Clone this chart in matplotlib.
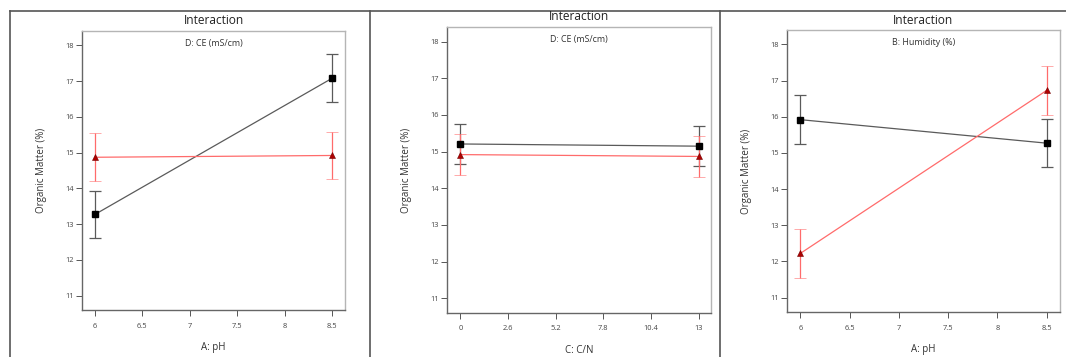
import matplotlib
matplotlib.use("Agg")
import matplotlib.pyplot as plt
from matplotlib.lines import Line2D

plt.rcParams['font.family'] = ['Open Sans', 'DejaVu Sans']

# --- data ---
# panel 1: A: pH  vs D: CE (mS/cm)
p1_x = [6, 8.5]
p1_black = [13.27, 17.08]
p1_black_err = [0.67, 0.67]
p1_red = [14.87, 14.92]
p1_red_err = [0.67, 0.67]
p1_ticks = [6, 6.5, 7, 7.5, 8, 8.5]
p1_ticklabels = ['6', '6.5', '7', '7.5', '8', '8.5']

# panel 2: C: C/N vs D: CE (mS/cm)
p2_x = [0, 13]
p2_black = [15.21, 15.15]
p2_black_err = [0.55, 0.55]
p2_red = [14.92, 14.87]
p2_red_err = [0.55, 0.55]
p2_ticks = [0, 2.6, 5.2, 7.8, 10.4, 13]
p2_ticklabels = ['0', '2.6', '5.2', '7.8', '10.4', '13']

# panel 3: A: pH vs B: Humidity (%)
p3_x = [6, 8.5]
p3_black = [15.92, 15.27]
p3_black_err = [0.67, 0.67]
p3_red = [12.22, 16.73]
p3_red_err = [0.67, 0.67]
p3_ticks = p1_ticks
p3_ticklabels = p1_ticklabels

y_ticks = [11, 12, 13, 14, 15, 16, 17, 18]

W, H = 1066, 357
fig = plt.figure(figsize=(W / 100, H / 100), dpi=100)
fig.patch.set_facecolor('white')


def px_axes(left, top, right, bottom):
    return fig.add_axes([left / W, 1 - bottom / H, (right - left) / W, (bottom - top) / H])


def draw_panel(ax, x, blk, blk_err, red, red_err, ticks, ticklabels, xlim,
               factor, xlabel, title, title_y, label_x, ylabel_x):
    ax.errorbar(x, blk, yerr=blk_err, color='#5a5a5a', lw=0.9, capsize=4.3,
                capthick=0.9, marker='s', ms=4, mfc='black', mec='black', zorder=3)
    ax.errorbar(x, red, yerr=red_err, color='#ff6b6b', lw=0.9, capsize=4.3,
                capthick=0.9, marker='^', ms=4.2, mfc='#b00000', mec='#700000',
                mew=0.4, zorder=3)
    ax.set_xlim(*xlim)
    ax.set_ylim(10.6, 18.4)
    ax.set_xticks(ticks)
    ax.set_xticklabels(ticklabels)
    ax.set_yticks(y_ticks)
    ax.tick_params(direction='out', length=4, width=0.7, color='#555555',
                   labelsize=5.4, labelcolor='#444444', pad=2)
    ax.tick_params(axis='x', pad=5)
    for s in ['left', 'bottom']:
        ax.spines[s].set_color('#666666')
        ax.spines[s].set_linewidth(1.0)
    for s in ['top', 'right']:
        ax.spines[s].set_color('#b5b5b5')
        ax.spines[s].set_linewidth(1.0)
    ax.text(0.5, 0.955, factor, transform=ax.transAxes, ha='center', va='center',
            fontsize=6.4, color='#333333')
    ax.set_xlabel(xlabel, fontsize=7, color='#333333', labelpad=9)
    ax.set_ylabel(ylabel_x, fontsize=7, color='#333333', labelpad=13)
    fig.text(label_x / W, 1 - title_y / H, title, ha='center', va='center',
             fontsize=8.6, color='#222222')


ax1 = px_axes(82, 31, 345, 310)
draw_panel(ax1, p1_x, p1_black, p1_black_err, p1_red, p1_red_err, p1_ticks,
           p1_ticklabels, (5.865, 8.635), 'D: CE (mS/cm)', 'A: pH',
           'Interaction', 21, 213.5, 'Organic Matter (%)')

ax2 = px_axes(447, 27, 711, 313)
draw_panel(ax2, p2_x, p2_black, p2_black_err, p2_red, p2_red_err, p2_ticks,
           p2_ticklabels, (-0.73, 13.67), 'D: CE (mS/cm)', 'C: C/N',
           'Interaction', 16.5, 579, 'Organic Matter (%)')

ax3 = px_axes(787, 30, 1060, 312)
draw_panel(ax3, p3_x, p3_black, p3_black_err, p3_red, p3_red_err, p3_ticks,
           p3_ticklabels, (5.865, 8.635), 'B: Humidity (%)', 'A: pH',
           'Interaction', 20.5, 923.5, 'Organic Matter (%)')

# panel frame lines
frame_col = '#555555'
fig.add_artist(Line2D([9.5 / W, 1.0], [1 - 10.5 / H, 1 - 10.5 / H], color=frame_col, lw=1.2))
for xv in [9.5, 369.5, 719.5]:
    fig.add_artist(Line2D([xv / W, xv / W], [0, 1 - 10.5 / H], color=frame_col, lw=1.2))

fig.savefig('out.png', dpi=100)
